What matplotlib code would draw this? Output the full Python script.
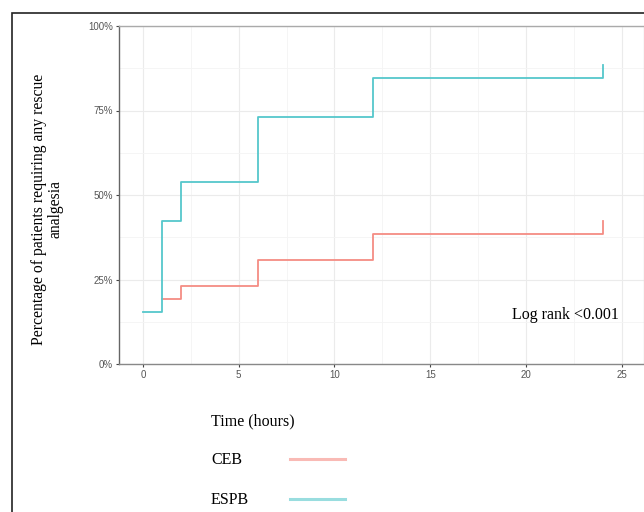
import matplotlib
matplotlib.use('Agg')
import matplotlib.pyplot as plt
from matplotlib.lines import Line2D
from matplotlib.patches import Rectangle
from matplotlib.ticker import FixedLocator, PercentFormatter

# Data (cumulative share requiring rescue analgesia)
groups = ['CEB', 'ESPB']
ceb_hours = [1, 2, 6, 12, 24]
ceb_share = [0.192, 0.231, 0.308, 0.385, 0.423]
espb_hours = [0, 1, 2, 6, 12, 24]
espb_share = [0.154, 0.423, 0.538, 0.731, 0.846, 0.885]

x_ticks = [0, 5, 10, 15, 20, 25]
y_ticks = [0, 0.25, 0.50, 0.75, 1.0]

CEB_COLOR = '#F58C84'
ESPB_COLOR = '#55C7CB'
SERIF = ['Liberation Serif', 'DejaVu Serif']
SANS = ['Liberation Sans', 'DejaVu Sans']

W, H = 644, 512
fig = plt.figure(figsize=(W / 100, H / 100), dpi=100)
ax = fig.add_axes([119 / W, 1 - 364 / H, (643.5 - 119) / W, (364 - 26) / H])

ax.plot(ceb_hours, ceb_share, drawstyle='steps-post', color=CEB_COLOR, lw=1.3, zorder=3)
ax.plot(espb_hours, espb_share, drawstyle='steps-post', color=ESPB_COLOR, lw=1.3, zorder=3)

ax.set_xlim(-1.253, 26.14)
ax.set_ylim(0, 1)

ax.xaxis.set_major_locator(FixedLocator(x_ticks))
ax.xaxis.set_minor_locator(FixedLocator([t + 2.5 for t in x_ticks]))
ax.yaxis.set_major_locator(FixedLocator(y_ticks))
ax.yaxis.set_minor_locator(FixedLocator([t + 0.125 for t in y_ticks[:-1]]))
ax.yaxis.set_major_formatter(PercentFormatter(1.0, decimals=0))

ax.grid(which='major', color='#EBEBEB', lw=0.8)
ax.grid(which='minor', color='#F4F4F4', lw=0.6)
ax.set_axisbelow(True)

ax.tick_params(which='major', length=2.5, width=0.8, color='#444444', labelsize=7,
               labelcolor='#555555', pad=2)
ax.tick_params(which='minor', length=0)
for lab in ax.get_xticklabels() + ax.get_yticklabels():
    lab.set_family(SANS)

ax.spines['left'].set_color('#666666')
ax.spines['bottom'].set_color('#888888')
ax.spines['top'].set_color('#AAAAAA')
ax.spines['right'].set_color('#DDDDDD')
for s in ax.spines.values():
    s.set_linewidth(1.0)

ax.text(19.27, 0.145, 'Log rank <0.001', family=SERIF, fontsize=11.5, va='center', ha='left')

fig.text(47 / W, 1 - 209 / H, 'Percentage of patients requiring any rescue\nanalgesia',
         rotation=90, ha='center', va='center', multialignment='center',
         family=SERIF, fontsize=11.3, linespacing=1.0)

# Legend block under the plot
fig.text(211 / W, 1 - 421 / H, 'Time (hours)', family=SERIF, fontsize=11.5, va='center')
for i, (name, col) in enumerate(zip(groups, [CEB_COLOR, ESPB_COLOR])):
    yc = 1 - (460.5 + 40 * i) / H
    fig.text(211 / W, yc, name, family=SERIF, fontsize=11.5, va='center')
    fig.add_artist(Line2D([290 / W, 345 / W], [yc + 1.5 / H] * 2, transform=fig.transFigure,
                          color=col, lw=2.2, alpha=0.6))

# Outer frame (cut off at right and bottom)
fig.add_artist(Rectangle((11.5 / W, -0.1), 1.2, 1 - 12.5 / H + 0.1, transform=fig.transFigure,
                         fill=False, edgecolor='#222222', lw=1.2))

fig.savefig('out.png', dpi=100)
